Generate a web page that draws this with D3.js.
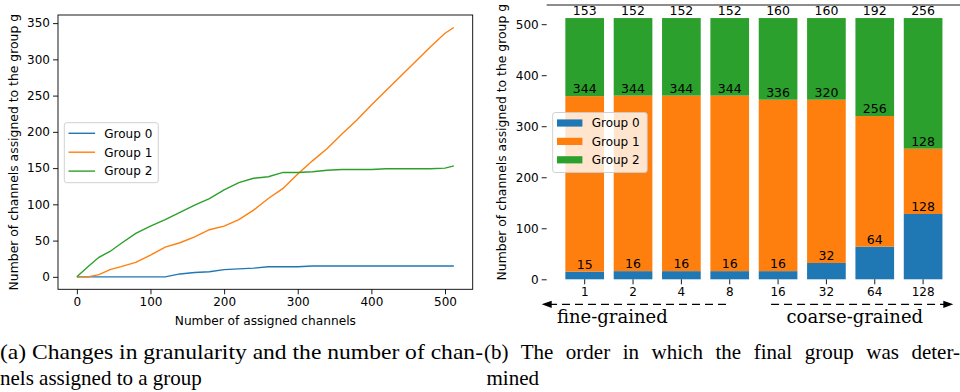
<!DOCTYPE html>
<html>
<head>
<meta charset="utf-8">
<script src="https://cdn.jsdelivr.net/npm/d3@7"></script>
<style>
  body { margin: 0; background: #fff; }
  svg text { font-family: 'DejaVu Sans', sans-serif; fill: #000; }
  .caption { font-family: 'Liberation Serif', serif; font-size: 21px; }
  .grain { font-family: 'DejaVu Serif', serif; font-size: 18px; }
</style>
</head>
<body>
<svg id="fig" width="960" height="392"></svg>
<script>
// ---- data: (a) cumulative channels per group vs. number of assigned channels
const channels = [0, 15, 30, 45, 60, 80, 100, 120, 140, 160, 180, 200, 220, 240, 260, 280, 300, 320, 340, 360, 380, 400, 420, 440, 460, 480, 500, 512];
const group0Count = [0, 0, 0, 0, 0, 0, 0, 0, 4, 6, 7, 10, 11, 12, 14, 14, 14, 15, 15, 15, 15, 15, 15, 15, 15, 15, 15, 15];
const group1Count = [0, 0, 3, 10, 14, 20, 30, 41, 47, 55, 65, 70, 79, 92, 108, 122, 142, 160, 177, 197, 216, 237, 257, 277, 297, 317, 336, 344];
const group2Count = [0, 14, 27, 35, 46, 60, 70, 79, 89, 99, 108, 120, 130, 136, 138, 144, 144, 145, 147, 148, 148, 148, 149, 149, 149, 149, 150, 153];
const lineXTicks = [0, 100, 200, 300, 400, 500];
const lineYTicks = [0, 50, 100, 150, 200, 250, 300, 350];

// ---- data: (b) final group sizes per granularity
const granularity = ['1', '2', '4', '8', '16', '32', '64', '128'];
const group0Final = [15, 16, 16, 16, 16, 32, 64, 128];
const group1Final = [344, 344, 344, 344, 336, 320, 256, 128];
const group2Final = [153, 152, 152, 152, 160, 160, 192, 256];
const barYTicks = [0, 100, 200, 300, 400, 500];

const groupNames = ['Group 0', 'Group 1', 'Group 2'];
const colors = ['#1f77b4', '#ff7f0e', '#2ca02c'];
const yLabel = 'Number of channels assigned to the group g';

const svg = d3.select('#fig');

// ================= (a) line chart =================
const xL = d3.scaleLinear().domain([-25.6, 537.6]).range([58, 472.7]);
const yL = d3.scaleLinear().domain([-17.2, 361.2]).range([289.3, 15]);

const gA = svg.append('g');

gA.append('g')
  .attr('transform', 'translate(0,289.3)')
  .call(d3.axisBottom(xL).tickValues(lineXTicks).tickSize(5).tickPadding(3))
  .call(styleAxis);

gA.append('g')
  .attr('transform', 'translate(58,0)')
  .call(d3.axisLeft(yL).tickValues(lineYTicks).tickSize(5).tickPadding(3))
  .call(styleAxis);

// frame
gA.append('rect')
  .attr('x', 58).attr('y', 15)
  .attr('width', 472.7 - 58).attr('height', 289.3 - 15)
  .attr('fill', 'none').attr('stroke', '#000').attr('stroke-width', 0.9);

const lineSeries = [group0Count, group1Count, group2Count];
const line = d3.line()
  .x((d, i) => xL(channels[i]))
  .y(d => yL(d));

lineSeries.forEach((s, k) => {
  gA.append('path')
    .datum(s)
    .attr('d', line)
    .attr('fill', 'none')
    .attr('stroke', colors[k])
    .attr('stroke-width', 1.4);
});

// legend
const legA = gA.append('g').attr('transform', 'translate(64.3,122.7)');
legA.append('rect')
  .attr('width', 94).attr('height', 60).attr('rx', 2.5)
  .attr('fill', '#fff').attr('fill-opacity', 0.8)
  .attr('stroke', '#ccc').attr('stroke-width', 0.9);
groupNames.forEach((name, k) => {
  const cy = 10.6 + k * 18.9;
  legA.append('line')
    .attr('x1', 4.2).attr('x2', 30.8).attr('y1', cy).attr('y2', cy)
    .attr('stroke', colors[k]).attr('stroke-width', 1.4);
  legA.append('text')
    .attr('x', 40).attr('y', cy + 4.4)
    .style('font-size', '12px')
    .text(name);
});

// axis labels
gA.append('text')
  .attr('x', (58 + 472.7) / 2).attr('y', 325)
  .attr('text-anchor', 'middle')
  .style('font-size', '12.2px')
  .text('Number of assigned channels');

gA.append('text')
  .attr('transform', 'translate(18,' + (15 + 289.3) / 2 + ')rotate(-90)')
  .attr('text-anchor', 'middle')
  .style('font-size', '12.4px')
  .text(yLabel);

// ================= (b) stacked bars =================
const xB = d3.scaleBand().domain(granularity).range([546.5, 961.3]).paddingInner(0.2).paddingOuter(0.39);
const yB = d3.scaleLinear().domain([0, 537.6]).range([279.3, 5]);

const gB = svg.append('g');

const rows = granularity.map((g, i) => ({ g: g, v: [group0Final[i], group1Final[i], group2Final[i]] }));
const stack = d3.stack().keys([0, 1, 2]).value((d, k) => d.v[k]);
const layers = stack(rows);

layers.forEach((layer, k) => {
  gB.append('g')
    .selectAll('rect')
    .data(layer)
    .join('rect')
    .attr('x', d => xB(d.data.g))
    .attr('y', d => yB(d[1]))
    .attr('width', xB.bandwidth())
    .attr('height', d => yB(d[0]) - yB(d[1]))
    .attr('fill', colors[k]);
});

// segment value labels at the top edge of each segment
layers.forEach((layer, k) => {
  gB.append('g')
    .selectAll('text')
    .data(layer)
    .join('text')
    .attr('x', d => xB(d.data.g) + xB.bandwidth() / 2)
    .attr('y', d => yB(d[1]) - 2.8)
    .attr('text-anchor', 'middle')
    .style('font-size', '12.5px')
    .text(d => d.data.v[k]);
});

gB.append('g')
  .attr('transform', 'translate(0,279.3)')
  .call(d3.axisBottom(xB).tickSize(5).tickPadding(3))
  .call(styleAxis);

gB.append('g')
  .attr('transform', 'translate(546.7,0)')
  .call(d3.axisLeft(yB).tickValues(barYTicks).tickSize(5).tickPadding(3))
  .call(styleAxis);

// top spine (right spine falls outside the picture)
gB.append('line')
  .attr('x1', 546.7).attr('x2', 962).attr('y1', 5).attr('y2', 5)
  .attr('stroke', '#000').attr('stroke-width', 0.9);

// legend
const legB = gB.append('g').attr('transform', 'translate(552.7,112.5)');
legB.append('rect')
  .attr('width', 94.5).attr('height', 60).attr('rx', 2.5)
  .attr('fill', '#fff').attr('fill-opacity', 0.8)
  .attr('stroke', '#ccc').attr('stroke-width', 0.9);
groupNames.forEach((name, k) => {
  const cy = 10.5 + k * 18.4;
  legB.append('rect')
    .attr('x', 4.3).attr('y', cy - 3.6).attr('width', 25.4).attr('height', 7.2)
    .attr('fill', colors[k]);
  legB.append('text')
    .attr('x', 39).attr('y', cy + 4.4)
    .style('font-size', '12px')
    .text(name);
});

gB.append('text')
  .attr('transform', 'translate(506,' + (5 + 279.3) / 2 + ')rotate(-90)')
  .attr('text-anchor', 'middle')
  .style('font-size', '12.4px')
  .text(yLabel);

// granularity arrows
const arrowY = 304.3;
const c = g => xB(g) + xB.bandwidth() / 2;
gB.append('line')
  .attr('x1', 549).attr('x2', c('8')).attr('y1', arrowY).attr('y2', arrowY)
  .attr('stroke', '#000').attr('stroke-width', 1.3).attr('stroke-dasharray', '8,5');
gB.append('path')
  .attr('d', 'M541.7,' + arrowY + 'l10,-3.6v7.2z')
  .attr('fill', '#000');
gB.append('line')
  .attr('x1', c('16') - 7).attr('x2', 946).attr('y1', arrowY).attr('y2', arrowY)
  .attr('stroke', '#000').attr('stroke-width', 1.3).attr('stroke-dasharray', '8,5');
gB.append('path')
  .attr('d', 'M953.3,' + arrowY + 'l-10,-3.6v7.2z')
  .attr('fill', '#000');

gB.append('text').attr('class', 'grain')
  .attr('x', 557).attr('y', 322.7)
  .text('fine-grained');
gB.append('text').attr('class', 'grain')
  .attr('x', c('128')).attr('y', 322.7)
  .attr('text-anchor', 'end')
  .text('coarse-grained');

// ================= captions =================
svg.append('text').attr('class', 'caption')
  .attr('x', 0).attr('y', 359)
  .attr('textLength', 483).attr('lengthAdjust', 'spacingAndGlyphs')
  .text('(a) Changes in granularity and the number of chan-');
svg.append('text').attr('class', 'caption')
  .attr('x', 0).attr('y', 385)
  .text('nels assigned to a group');
// the (b) caption runs past the right edge in the reference as well
svg.append('text').attr('class', 'caption')
  .attr('x', 484).attr('y', 359)
  .style('word-spacing', '7.3px')
  .text('(b) The order in which the final group was deter-');
svg.append('text').attr('class', 'caption')
  .attr('x', 486.5).attr('y', 385)
  .text('mined');

function styleAxis(g) {
  g.select('.domain').remove();
  g.selectAll('.tick line').attr('stroke', '#000').attr('stroke-width', 0.9);
  g.selectAll('.tick text')
    .style('font-family', "'DejaVu Sans', sans-serif")
    .style('font-size', '12px')
    .attr('fill', '#000');
}
</script>
</body>
</html>
